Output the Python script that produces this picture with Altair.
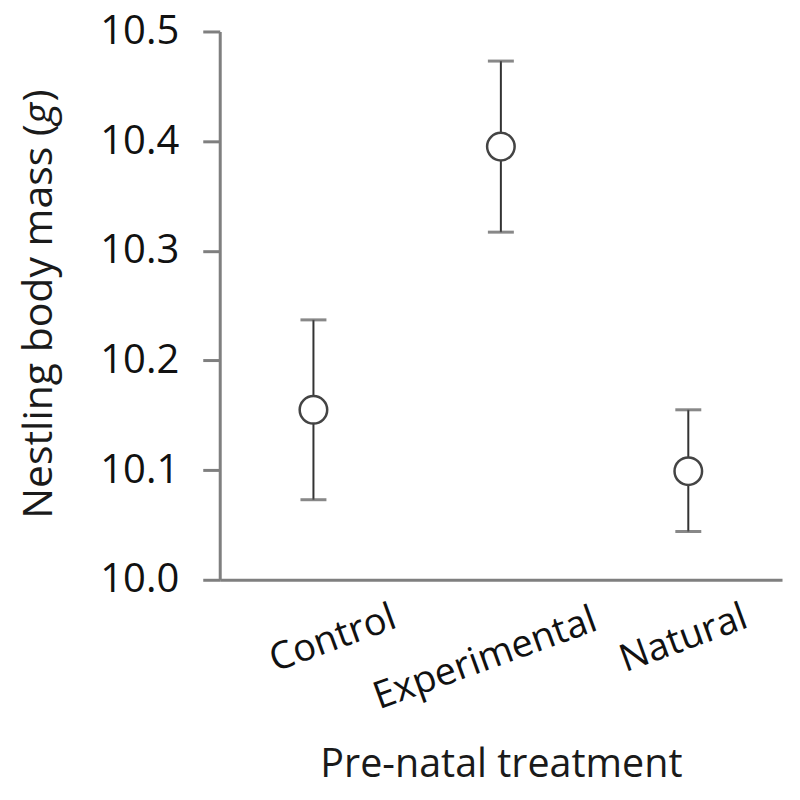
import altair as alt
import pandas as pd

treatments = ["Control", "Experimental", "Natural"]
means = [10.155, 10.395, 10.099]
uppers = [10.237, 10.473, 10.155]
lowers = [10.073, 10.317, 10.044]
y_ticks = [10.0, 10.1, 10.2, 10.3, 10.4, 10.5]
y_title_parts = ["Nestling body mass (", "g", ")"]

df = pd.DataFrame({"treatment": treatments, "mean": means, "hi": uppers, "lo": lowers})

FONT = "Open Sans"
AX = "#7f7f7f"
TSIZE = 41

x_enc = alt.X(
    "treatment:N",
    sort=treatments,
    scale=alt.Scale(type="point", padding=0.5),
    axis=alt.Axis(
        title="Pre-natal treatment",
        titleFont=FONT, titleFontSize=39.5, titleFontWeight="normal", titleColor="#1a1a1a",
        titleY=197, titleBaseline="alphabetic",
        labelFont=FONT, labelFontSize=38, labelColor="#111111", labelLimit=0,
        labelAngle=-20, labelAlign="center", labelBaseline="middle",
        labelPadding={"condition": {"test": "datum.value === 'Experimental'", "value": 79}, "value": 59},
        labelOffset={"condition": [
            {"test": "datum.value === 'Control'", "value": 19},
            {"test": "datum.value === 'Experimental'", "value": -16},
        ], "value": -5},
        ticks=False, tickSize=0,
        domainColor=AX, domainWidth=3,
        grid=False,
    ),
)

y_scale = alt.Scale(domain=[10.0, 10.5], nice=False, zero=False)
y_axis = alt.Axis(
    title=None,
    values=y_ticks, format=".1f",
    labelFont=FONT, labelFontSize=40, labelColor="#111111", labelPadding=24,
    tickSize=17, tickColor=AX, tickWidth=3,
    domainColor=AX, domainWidth=3,
    grid=False,
)

base = alt.Chart(df)

rules = base.mark_rule(color="#333333", strokeWidth=2).encode(
    x=x_enc,
    y=alt.Y("lo:Q", scale=y_scale, axis=y_axis),
    y2="hi:Q",
)

caps_hi = base.mark_tick(color="#555555", size=26, thickness=3).encode(
    x=alt.X("treatment:N", sort=treatments), y=alt.Y("hi:Q")
)
caps_lo = base.mark_tick(color="#555555", size=26, thickness=3).encode(
    x=alt.X("treatment:N", sort=treatments), y=alt.Y("lo:Q")
)

points = base.mark_point(
    shape="circle", filled=True, fill="white", stroke="#444444", strokeWidth=2.5,
    size=760, opacity=1,
).encode(
    x=alt.X("treatment:N", sort=treatments), y=alt.Y("mean:Q")
)

# y-axis title with italic "g", drawn as three rotated text pieces
title_df = pd.DataFrame({"t": y_title_parts})
title_main = alt.Chart(title_df.iloc[[0]]).mark_text(
    angle=270, align="left", baseline="alphabetic", font=FONT, fontSize=TSIZE, color="#1a1a1a"
).encode(text="t:N", x=alt.value(-168), y=alt.value(488))
title_g = alt.Chart(title_df.iloc[[1]]).mark_text(
    angle=270, align="left", baseline="alphabetic", font=FONT, fontSize=TSIZE, fontStyle="italic",
    color="#1a1a1a"
).encode(text="t:N", x=alt.value(-168), y=alt.value(93))
title_close = alt.Chart(title_df.iloc[[2]]).mark_text(
    angle=270, align="left", baseline="alphabetic", font=FONT, fontSize=TSIZE, color="#1a1a1a"
).encode(text="t:N", x=alt.value(-168), y=alt.value(70))

chart = (
    alt.layer(rules, caps_hi, caps_lo, points, title_main, title_g, title_close)
    .properties(
        width=563, height=549,
        autosize=alt.AutoSizeParams(type="none"),
        padding={"left": 212, "top": 23, "right": 10, "bottom": 212},
    )
    .configure(background="white")
    .configure_view(strokeWidth=0, stroke="transparent")
)

chart.save("out.html", embed_options={"renderer": "svg", "actions": False})
